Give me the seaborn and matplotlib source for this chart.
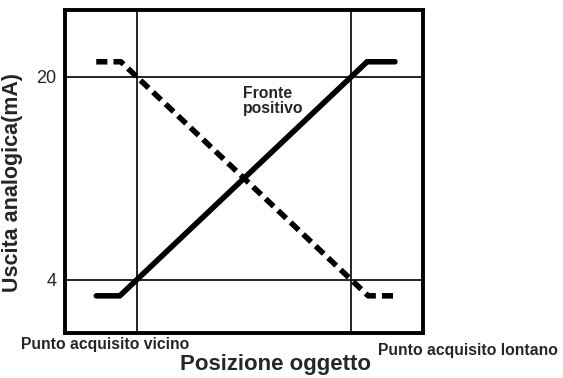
import matplotlib
matplotlib.use("Agg")
import matplotlib.pyplot as plt
import seaborn as sns
import pandas as pd

# dati (posizione normalizzata: 0 = punto vicino, 1 = punto lontano)
pos_fronte_pos = [-0.19, -0.08, 1.075, 1.205]
out_fronte_pos = [2.75, 2.75, 21.2, 21.2]
pos_fronte_neg = [-0.19, -0.075, 1.08, 1.205]
out_fronte_neg = [21.2, 21.2, 2.75, 2.75]
y_ticks = [4, 20]
y_tick_labels = ["4", "20"]
x_ref = [0, 1]

sns.set_style("white")
plt.rcParams["font.family"] = ["Liberation Sans", "DejaVu Sans"]

df_pos = pd.DataFrame({"pos": pos_fronte_pos, "out": out_fronte_pos})
df_neg = pd.DataFrame({"pos": pos_fronte_neg, "out": out_fronte_neg})

fig = plt.figure(figsize=(5.63, 3.78), dpi=100)
W, H = 563, 378
ax = fig.add_axes([65 / W, 1 - 333 / H, (423 - 65) / W, (333 - 10) / H])

sns.lineplot(data=df_pos, x="pos", y="out", ax=ax, color="black", lw=4,
             sort=False, estimator=None, solid_joinstyle="miter")
sns.lineplot(data=df_neg, x="pos", y="out", ax=ax, color="black", lw=4,
             sort=False, estimator=None, linestyle=(0, (2.0, 1.1)))

# linee di riferimento
ax.set_xticks(x_ref)
ax.set_xticklabels([])
ax.set_yticks(y_ticks)
ax.set_yticklabels(y_tick_labels, fontsize=13)
ax.grid(True, color="black", lw=1.2)
ax.set_axisbelow(True)
ax.tick_params(length=0, pad=6)
ax.set_xlim(-0.336, 1.336)
ax.set_ylim(-0.18, 25.28)
for s in ax.spines.values():
    s.set_visible(True)
    s.set_color("black")
    s.set_linewidth(2.8)

ax.set_xlabel("")
ax.set_ylabel("Uscita analogica(mA)", fontsize=15.5, fontweight="bold")
ax.yaxis.set_label_coords(-0.118, 0.467)

ax.text(0.495, 17.15, "Fronte\npositivo", fontsize=11.3, fontweight="bold",
        va="baseline", ha="left", linespacing=1.0)

fig.text(275.5 / W, 1 - 370 / H, "Posizione oggetto", fontsize=16,
         fontweight="bold", ha="center", va="baseline")
fig.text(21 / W, 1 - 349 / H, "Punto acquisito vicino", fontsize=11.3,
         fontweight="bold", ha="left", va="baseline")
fig.text(378 / W, 1 - 355 / H, "Punto acquisito lontano", fontsize=11.3,
         fontweight="bold", ha="left", va="baseline")

fig.savefig("out.png", dpi=100)
